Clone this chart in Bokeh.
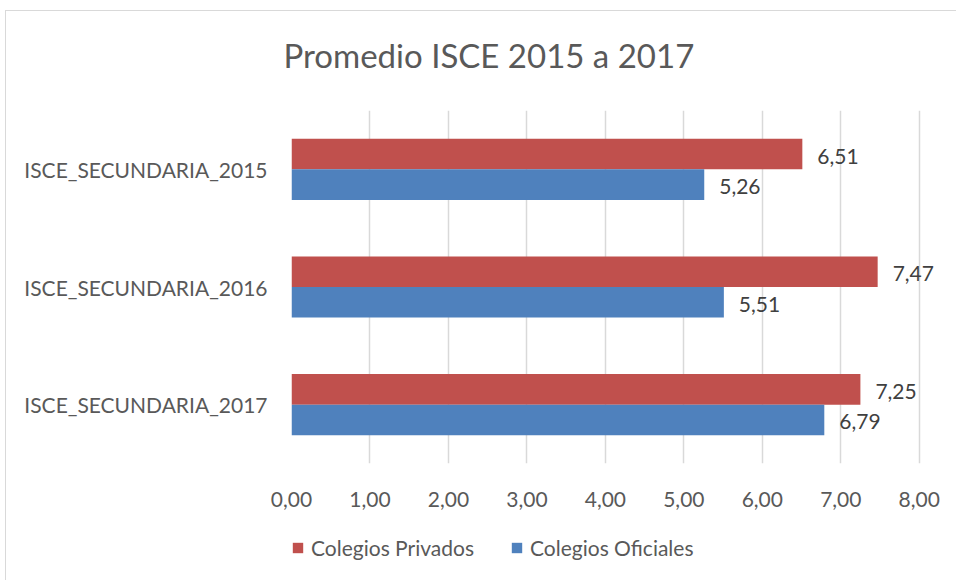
from bokeh.plotting import figure
from bokeh.layouts import column
from bokeh.models import (FactorRange, Range1d, CustomJSTickFormatter, Legend,
                          LegendItem, ColumnDataSource, FixedTicker, Title)
from bokeh.transform import dodge
from bokeh.core.properties import value
from bokeh.embed import file_html
from bokeh.resources import INLINE

categories = ["ISCE_SECUNDARIA_2015", "ISCE_SECUNDARIA_2016", "ISCE_SECUNDARIA_2017"]
privados = [6.51, 7.47, 7.25]
oficiales = [5.26, 5.51, 6.79]
series_names = ["Colegios Privados", "Colegios Oficiales"]
x_ticks = [0, 1, 2, 3, 4, 5, 6, 7, 8]
title_text = "Promedio ISCE 2015 a 2017"

RED = "#C0504D"
BLUE = "#4F81BD"
TXT = "#595959"
GRID = "#D9D9D9"
FONT = "Lato"
FS = "21px"

def fmt(v):
    return f"{v:.2f}".replace(".", ",")

src = ColumnDataSource(dict(
    cat=categories,
    priv=privados,
    ofi=oficiales,
    priv_lbl=[fmt(v) for v in privados],
    ofi_lbl=[fmt(v) for v in oficiales],
))

# ---------------- main chart ----------------
p = figure(
    width=950, height=505,
    y_range=FactorRange(*reversed(categories)),
    x_range=Range1d(0, 8.36),
    output_backend="svg", toolbar_location=None,
    min_border_left=285, min_border_right=9,
    min_border_top=99, min_border_bottom=53,
    title=None,
)
p.outline_line_color = None

bh = 0.26
r_priv = p.hbar(y=dodge("cat", bh / 2, range=p.y_range), right="priv", left=0, height=bh,
                source=src, color=RED, line_color=None)
r_ofi = p.hbar(y=dodge("cat", -bh / 2, range=p.y_range), right="ofi", left=0, height=bh,
               source=src, color=BLUE, line_color=None)

p.text(x="priv", y=dodge("cat", bh / 2, range=p.y_range), text="priv_lbl", source=src,
       x_offset=15, y_offset=2, text_baseline="middle", text_align="left",
       text_font=value(FONT), text_font_size=FS, text_color="#404040")
p.text(x="ofi", y=dodge("cat", -bh / 2, range=p.y_range), text="ofi_lbl", source=src,
       x_offset=15, y_offset=2, text_baseline="middle", text_align="left",
       text_font=value(FONT), text_font_size=FS, text_color="#404040")

p.xaxis.ticker = FixedTicker(ticks=x_ticks)
p.xaxis.formatter = CustomJSTickFormatter(code="return tick.toFixed(2).replace('.', ',');")
for ax in (p.xaxis, p.yaxis):
    ax.axis_line_color = None
    ax.major_tick_line_color = None
    ax.minor_tick_line_color = None
    ax.major_label_text_font = FONT
    ax.major_label_text_font_size = FS
    ax.major_label_text_color = TXT
p.xaxis.major_label_standoff = 22
p.yaxis.major_label_standoff = 18
p.xgrid.grid_line_color = GRID
p.xgrid.grid_line_width = 1.5
p.ygrid.grid_line_color = None

# spacer between title and plot area, then the title itself
spacer = Title(text=" ", text_font=FONT, text_font_size="12px", standoff=19)
p.add_layout(spacer, "above")
t = Title(text=title_text, align="left", offset=-8, standoff=0,
          text_font=FONT, text_font_size="33px", text_font_style="normal",
          text_color=TXT)
p.add_layout(t, "above")

# ---------------- legend strip ----------------
lg = figure(
    width=950, height=64,
    y_range=FactorRange(*reversed(categories)),
    x_range=Range1d(100, 101),
    output_backend="svg", toolbar_location=None,
    x_axis_type=None, y_axis_type=None,
    min_border_left=0, min_border_right=0, min_border_top=0, min_border_bottom=0,
    title=None,
)
lg.outline_line_color = None
l_priv = lg.hbar(y="cat", right="priv", left=0, height=0, source=src, color=RED, line_color=None)
l_ofi = lg.hbar(y="cat", right="ofi", left=0, height=0, source=src, color=BLUE, line_color=None)

legend = Legend(items=[LegendItem(label=series_names[0], renderers=[l_priv]),
                       LegendItem(label=series_names[1], renderers=[l_ofi])],
                orientation="horizontal", location=(0, 20),
                glyph_width=13, glyph_height=13, label_text_font=FONT,
                label_text_font_size=FS, label_text_color=TXT,
                spacing=36, label_standoff=7, padding=0, margin=0,
                border_line_color=None, background_fill_alpha=0)
lg.add_layout(legend, "center")

layout = column(p, lg, spacing=0)
layout.styles = {"border-left": "1px solid #D9D9D9", "border-top": "1px solid #D9D9D9",
                 "margin-left": "5px", "margin-top": "10px"}

open("out.html", "w").write(file_html(layout, INLINE))
